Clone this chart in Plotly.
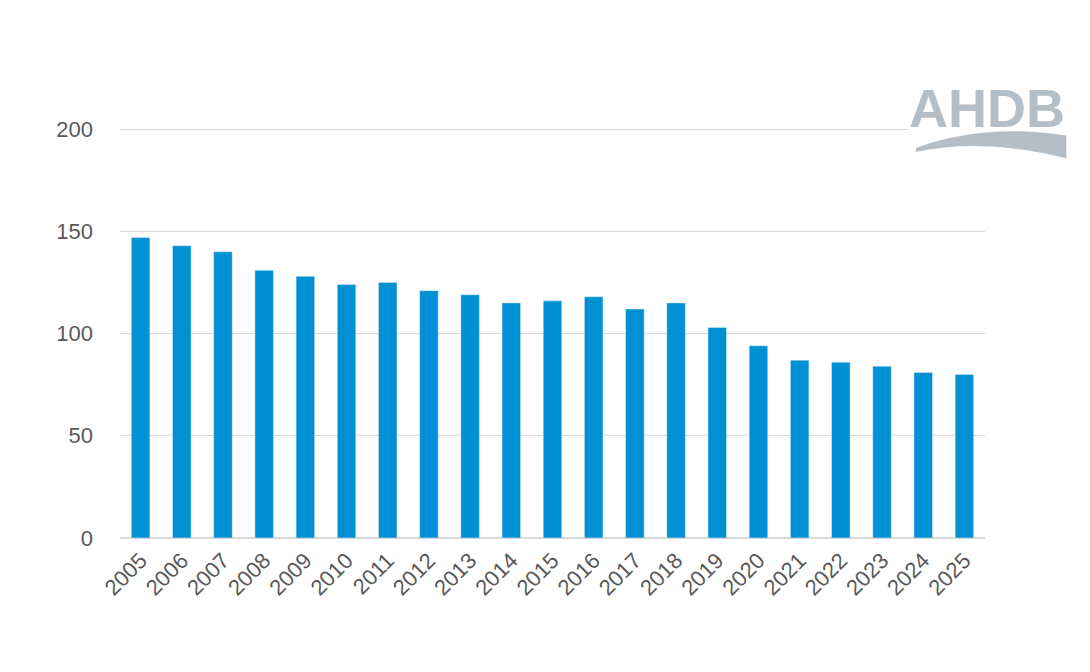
import plotly.graph_objects as go

years = [str(y) for y in range(2005, 2026)]
values = [147, 143, 140, 131, 128, 124, 125, 121, 119, 115, 116, 118, 112, 115, 103, 94, 87, 86, 84, 81, 80]

fig = go.Figure()
fig.add_trace(go.Bar(x=years, y=values, marker=dict(color="#0090d4"), width=0.45))

# AHDB logo: white box, wordmark and wave
fig.add_shape(type="rect", xref="paper", yref="paper", x0=0.911, x1=1.13, y0=0.96, y1=1.3,
              fillcolor="white", line=dict(width=0), layer="above")
fig.add_annotation(text="<b>AHDB</b>", xref="paper", yref="paper", x=1.095, y=0.96,
                   xanchor="right", yanchor="bottom", showarrow=False,
                   font=dict(family="Liberation Sans", size=54, color="#b3bec6"))
fig.add_shape(type="path", xref="paper", yref="paper",
              path="M 0.92 0.94 Q 1.0 1.0 1.094 0.97 L 1.094 0.915 Q 1.0 0.965 0.92 0.93 Z",
              fillcolor="#b3bec6", line=dict(width=0), layer="above")

fig.update_layout(
    width=1090, height=672,
    paper_bgcolor="white", plot_bgcolor="white",
    margin=dict(l=112, r=113, t=115, b=142),
    showlegend=False,
    font=dict(family="Liberation Sans", size=22, color="#595959"),
    yaxis=dict(range=[0, 203], tickvals=[0, 50, 100, 150, 200], gridcolor="#d9d9d9",
               zeroline=True, zerolinecolor="#d9d9d9", ticklabelstandoff=26, ticks=""),
    xaxis=dict(tickangle=-45, showline=True, linecolor="#d9d9d9", ticks=""),
)

fig.write_html("out.html")
